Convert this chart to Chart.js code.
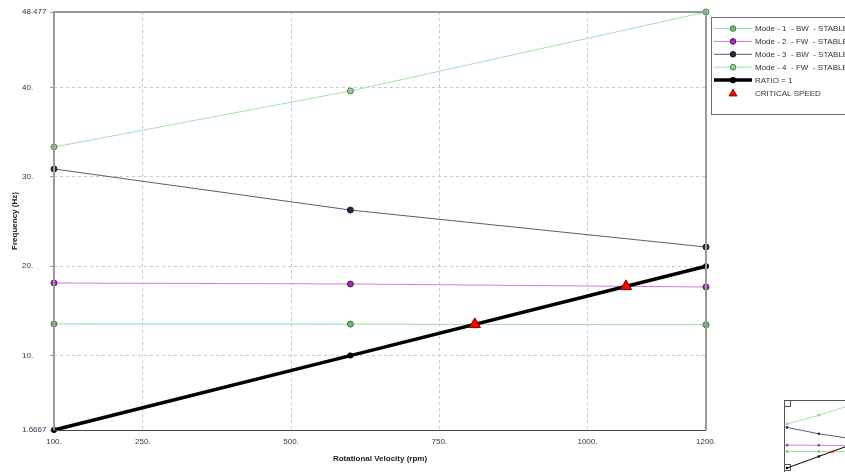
<!DOCTYPE html>
<html>
<head>
<meta charset="utf-8">
<script src="https://cdn.jsdelivr.net/npm/chart.js@4/dist/chart.umd.min.js"></script>
<style>
  html, body { margin: 0; padding: 0; background: #fff; overflow: hidden; }
  #wrap { position: relative; width: 845px; height: 472px; }
  #main { position: absolute; left: 0; top: 0; }
  #mini { position: absolute; left: 783px; top: 399px; }
</style>
</head>
<body>
<div id="wrap">
  <canvas id="main" width="845" height="472"></canvas>
  <canvas id="mini" width="78" height="73"></canvas>
</div>
<script>
// Rotational speed stations (rpm)
const speeds = [100, 600, 1200];

// Whirl frequencies (Hz) for each mode at the stations above
const mode1BW = [13.55, 13.52, 13.45];
const mode2FW = [18.13, 18.02, 17.68];
const mode3BW = [30.9, 26.3, 22.16];
const mode4FW = [33.36, 39.63, 48.477];

// Synchronous excitation line (frequency = rpm / 60)
const ratio1 = [1.6667, 10, 20];

// Crossings of the synchronous line with the modes
const criticalRpm = [810, 1065];
const criticalHz = [13.5, 17.75];

// Axis ticks
const xTickValues = [100, 250, 500, 750, 1000, 1200];
const xTickLabels = ['100.', '250.', '500.', '750.', '1000.', '1200.'];
const yTickValues = [1.6667, 10, 20, 30, 40, 48.477];
const yTickLabels = ['1.6667', '10.', '20.', '30.', '40.', '48.477'];

const seriesNames = [
  'Mode - 1  - BW  - STABLE',
  'Mode - 2  - FW  - STABLE',
  'Mode - 3  - BW  - STABLE',
  'Mode - 4  - FW  - STABLE',
  'RATIO = 1',
  'CRITICAL SPEED'
];

const FONT = '"Liberation Sans", Arial, sans-serif';
const toXY = (xs, ys) => xs.map((x, i) => ({ x: x, y: ys[i] }));

function buildDatasets(mini) {
  const pr = mini ? 1.3 : 3;
  const lw = mini ? 1 : 1;
  return [
    { label: seriesNames[0], data: toXY(speeds, mode1BW), borderColor: '#a3d9a3', borderWidth: lw,
      pointBackgroundColor: '#6cbd72', pointBorderColor: '#3f7a45', pointRadius: pr, pointBorderWidth: mini ? 0 : 1,
      order: 5, clip: false },
    { label: seriesNames[1], data: toXY(speeds, mode2FW), borderColor: '#c97fd6', borderWidth: lw,
      pointBackgroundColor: '#a02db0', pointBorderColor: '#5a1866', pointRadius: pr, pointBorderWidth: mini ? 0 : 1,
      order: 4, clip: false },
    { label: seriesNames[2], data: toXY(speeds, mode3BW), borderColor: '#5b5b77', borderWidth: lw,
      pointBackgroundColor: '#2b2b3d', pointBorderColor: '#1a1a26', pointRadius: pr, pointBorderWidth: mini ? 0 : 1,
      order: 3, clip: false },
    { label: seriesNames[3], data: toXY(speeds, mode4FW), borderColor: '#a9dea9', borderWidth: lw,
      pointBackgroundColor: '#8fd08f', pointBorderColor: '#4f7f52', pointRadius: pr, pointBorderWidth: mini ? 0 : 1,
      order: 2, clip: false },
    { label: seriesNames[4], data: toXY(speeds, ratio1), borderColor: '#000000', borderWidth: mini ? 1 : 3.5,
      pointBackgroundColor: '#000000', pointBorderColor: '#000000', pointRadius: mini ? 1.3 : 3, pointBorderWidth: 0,
      order: 1, clip: false },
    { label: seriesNames[5], data: toXY(criticalRpm, criticalHz), showLine: false, pointStyle: 'triangle',
      pointBackgroundColor: '#ff0000', pointBorderColor: '#7a0000', pointRadius: mini ? 1.8 : 6.5,
      pointBorderWidth: mini ? 0 : 1, borderColor: '#ff0000', order: 0, clip: false }
  ];
}

// Frame around the plot area: grey on the left, top and right
const frame = {
  id: 'frame',
  afterDatasetsDraw(chart) {
    const a = chart.chartArea, c = chart.ctx;
    c.save();
    c.strokeStyle = '#9a9a9a';
    c.lineWidth = 2;
    c.beginPath();
    c.moveTo(a.left, a.bottom);
    c.lineTo(a.left, a.top);
    c.lineTo(a.right, a.top);
    c.lineTo(a.right, a.bottom);
    c.stroke();
    c.strokeStyle = '#444444';
    c.lineWidth = 1;
    c.beginPath();
    c.moveTo(a.left, a.bottom + 0.5);
    c.lineTo(a.right, a.bottom + 0.5);
    c.stroke();
    c.restore();
  }
};

// Vertical axis caption
const yCaption = {
  id: 'yCaption',
  afterDraw(chart) {
    const a = chart.chartArea, c = chart.ctx;
    c.save();
    c.translate(15, (a.top + a.bottom) / 2);
    c.rotate(-Math.PI / 2);
    c.font = 'bold 8px ' + FONT;
    c.fillStyle = '#222222';
    c.textAlign = 'center';
    c.textBaseline = 'middle';
    c.fillText('Frequency (Hz)', 0, 0);
    c.restore();
  }
};

// Boxed legend to the right of the plot
const boxLegend = {
  id: 'boxLegend',
  afterDraw(chart) {
    const c = chart.ctx;
    const ds = chart.data.datasets;
    const x0 = 711.5, y0 = 17.5;
    c.save();
    c.strokeStyle = '#6e6e6e';
    c.lineWidth = 1;
    c.strokeRect(x0, y0, 200, 97);
    c.font = '8px ' + FONT;
    c.textBaseline = 'middle';
    c.textAlign = 'left';
    ds.forEach((d, i) => {
      const y = 28.5 + i * 12.9;
      if (d.showLine !== false) {
        c.strokeStyle = d.borderColor;
        c.lineWidth = d.borderWidth;
        c.beginPath();
        c.moveTo(714, y);
        c.lineTo(752, y);
        c.stroke();
        c.beginPath();
        c.arc(733, y, 2.8, 0, Math.PI * 2);
        c.fillStyle = d.pointBackgroundColor;
        c.fill();
        c.strokeStyle = d.pointBorderColor;
        c.lineWidth = 1;
        c.stroke();
      } else {
        c.beginPath();
        c.moveTo(733, y - 4);
        c.lineTo(737, y + 3);
        c.lineTo(729, y + 3);
        c.closePath();
        c.fillStyle = d.pointBackgroundColor;
        c.fill();
        c.strokeStyle = d.pointBorderColor;
        c.lineWidth = 0.8;
        c.stroke();
      }
      c.fillStyle = '#333333';
      c.fillText(d.label, 755, y + 0.5);
    });
    c.restore();
  }
};

const gridColor = (edgeVals) => (ctx) => {
  if (ctx.tick && edgeVals.includes(ctx.tick.value)) return 'rgba(0,0,0,0)';
  return '#c9c9c9';
};

new Chart(document.getElementById('main'), {
  type: 'line',
  data: { datasets: buildDatasets(false) },
  plugins: [frame, yCaption, boxLegend],
  options: {
    responsive: false,
    animation: false,
    events: [],
    layout: { padding: { left: 22, top: 12, right: 139, bottom: 0 } },
    plugins: { legend: { display: false }, tooltip: { enabled: false } },
    elements: { line: { tension: 0 } },
    scales: {
      x: {
        type: 'linear', min: 100, max: 1200,
        afterBuildTicks: (s) => { s.ticks = xTickValues.map(v => ({ value: v })); },
        afterFit: (s) => { s.height = 42; },
        ticks: {
          autoSkip: false, maxRotation: 0, padding: 3,
          font: { family: FONT, size: 8 }, color: '#33334d',
          callback: (v, i) => xTickLabels[i]
        },
        grid: {
          color: gridColor([100, 1200]), lineWidth: 1, tickLength: 4,
          tickColor: 'rgba(0,0,0,0)', drawTicks: true
        },
        border: { display: false, dash: [3, 3] },
        title: {
          display: true, text: 'Rotational Velocity (rpm)',
          font: { family: FONT, size: 8, weight: 'bold' }, color: '#222222',
          padding: { top: 4, bottom: 8 }
        }
      },
      y: {
        type: 'linear', min: 1.6667, max: 48.477,
        afterBuildTicks: (s) => { s.ticks = yTickValues.map(v => ({ value: v })); },
        afterFit: (s) => { s.width = 32; },
        ticks: {
          autoSkip: false, crossAlign: 'far', padding: 2,
          font: { family: FONT, size: 8 }, color: '#33334d',
          callback: (v, i) => yTickLabels[i]
        },
        grid: {
          color: gridColor([1.6667, 48.477]), lineWidth: 1, tickLength: 4,
          tickColor: '#9a9a9a', drawTicks: true
        },
        border: { display: false, dash: [3, 3] },
        title: { display: false }
      }
    }
  }
});

// Small overview of the whole plot in the corner
const miniFrame = {
  id: 'miniFrame',
  beforeDraw(chart) {
    const c = chart.ctx;
    c.save();
    c.strokeStyle = '#555555';
    c.lineWidth = 1;
    c.strokeRect(1.5, 1.5, 100, 100);
    c.strokeRect(1.5, 1.5, 6, 6);
    c.strokeRect(1.5, 65.5, 6, 6);
    c.restore();
  }
};

new Chart(document.getElementById('mini'), {
  type: 'line',
  data: { datasets: buildDatasets(true) },
  plugins: [miniFrame],
  options: {
    responsive: false,
    animation: false,
    events: [],
    layout: { padding: { left: 2, top: 3, right: -72, bottom: 3 } },
    plugins: { legend: { display: false }, tooltip: { enabled: false } },
    elements: { line: { tension: 0 } },
    scales: {
      x: { type: 'linear', min: 100, max: 1200, display: false },
      y: { type: 'linear', min: 1.6667, max: 48.477, display: false }
    }
  }
});
</script>
</body>
</html>
